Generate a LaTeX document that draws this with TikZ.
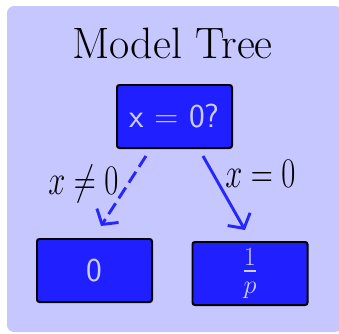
\RequirePackage{fix-cm}
\documentclass[tikz,border=0pt]{standalone}
\usepackage{amsfonts,amsmath,amssymb}
\usepackage{graphicx}
\usetikzlibrary{arrows.meta,calc,positioning}

\begin{document}
\begin{tikzpicture}[x=0.03cm, y=-0.03cm,
    box/.style={draw=black, line width=1.7pt, fill=blue!88, text=blue!20, rounded corners=2pt,
        minimum width=3.45cm, minimum height=1.89cm, inner sep=0pt,
        font=\fontsize{28.5}{32}\selectfont\sffamily},
    branch/.style={draw=blue!85, line width=2.5pt, -{Straight Barb[length=9pt,width=22pt]}},
    cond/.style={anchor=base, inner sep=0pt, font=\fontsize{30}{34}\selectfont}]
    \clip (0,0) rectangle (339,333);
    \fill [blue!22, rounded corners=6pt] (7,6) rectangle (342,332);

    \node [anchor=base, font=\fontsize{37.5}{44}\selectfont] (title) at (172.5,58) {Model Tree};

\node [box] (root) at (174.5,116.5) {x = 0?};
\node [box] (zero) at (94.5,270.5) {0};
\node [box, font=\fontsize{32}{36}\selectfont] (inv) at (250,273.5) {$\frac{1}{p}$};

\draw [branch, dash pattern=on 11pt off 5pt] ($(root.south)+(-28.5,7)$) -- ($(zero.north)+(6.5,-12)$);
\draw [branch] ($(root.south)+(28.5,7)$) -- ($(inv.north)+(-5,-11)$);

\node [cond] (neq) at (83.5,194) {\scalebox{0.87}[1.2]{$x\neq0$}};
\node [cond] (eq) at (260.5,187) {\scalebox{0.87}[1.2]{$x=0$}};
\end{tikzpicture}
\end{document}
